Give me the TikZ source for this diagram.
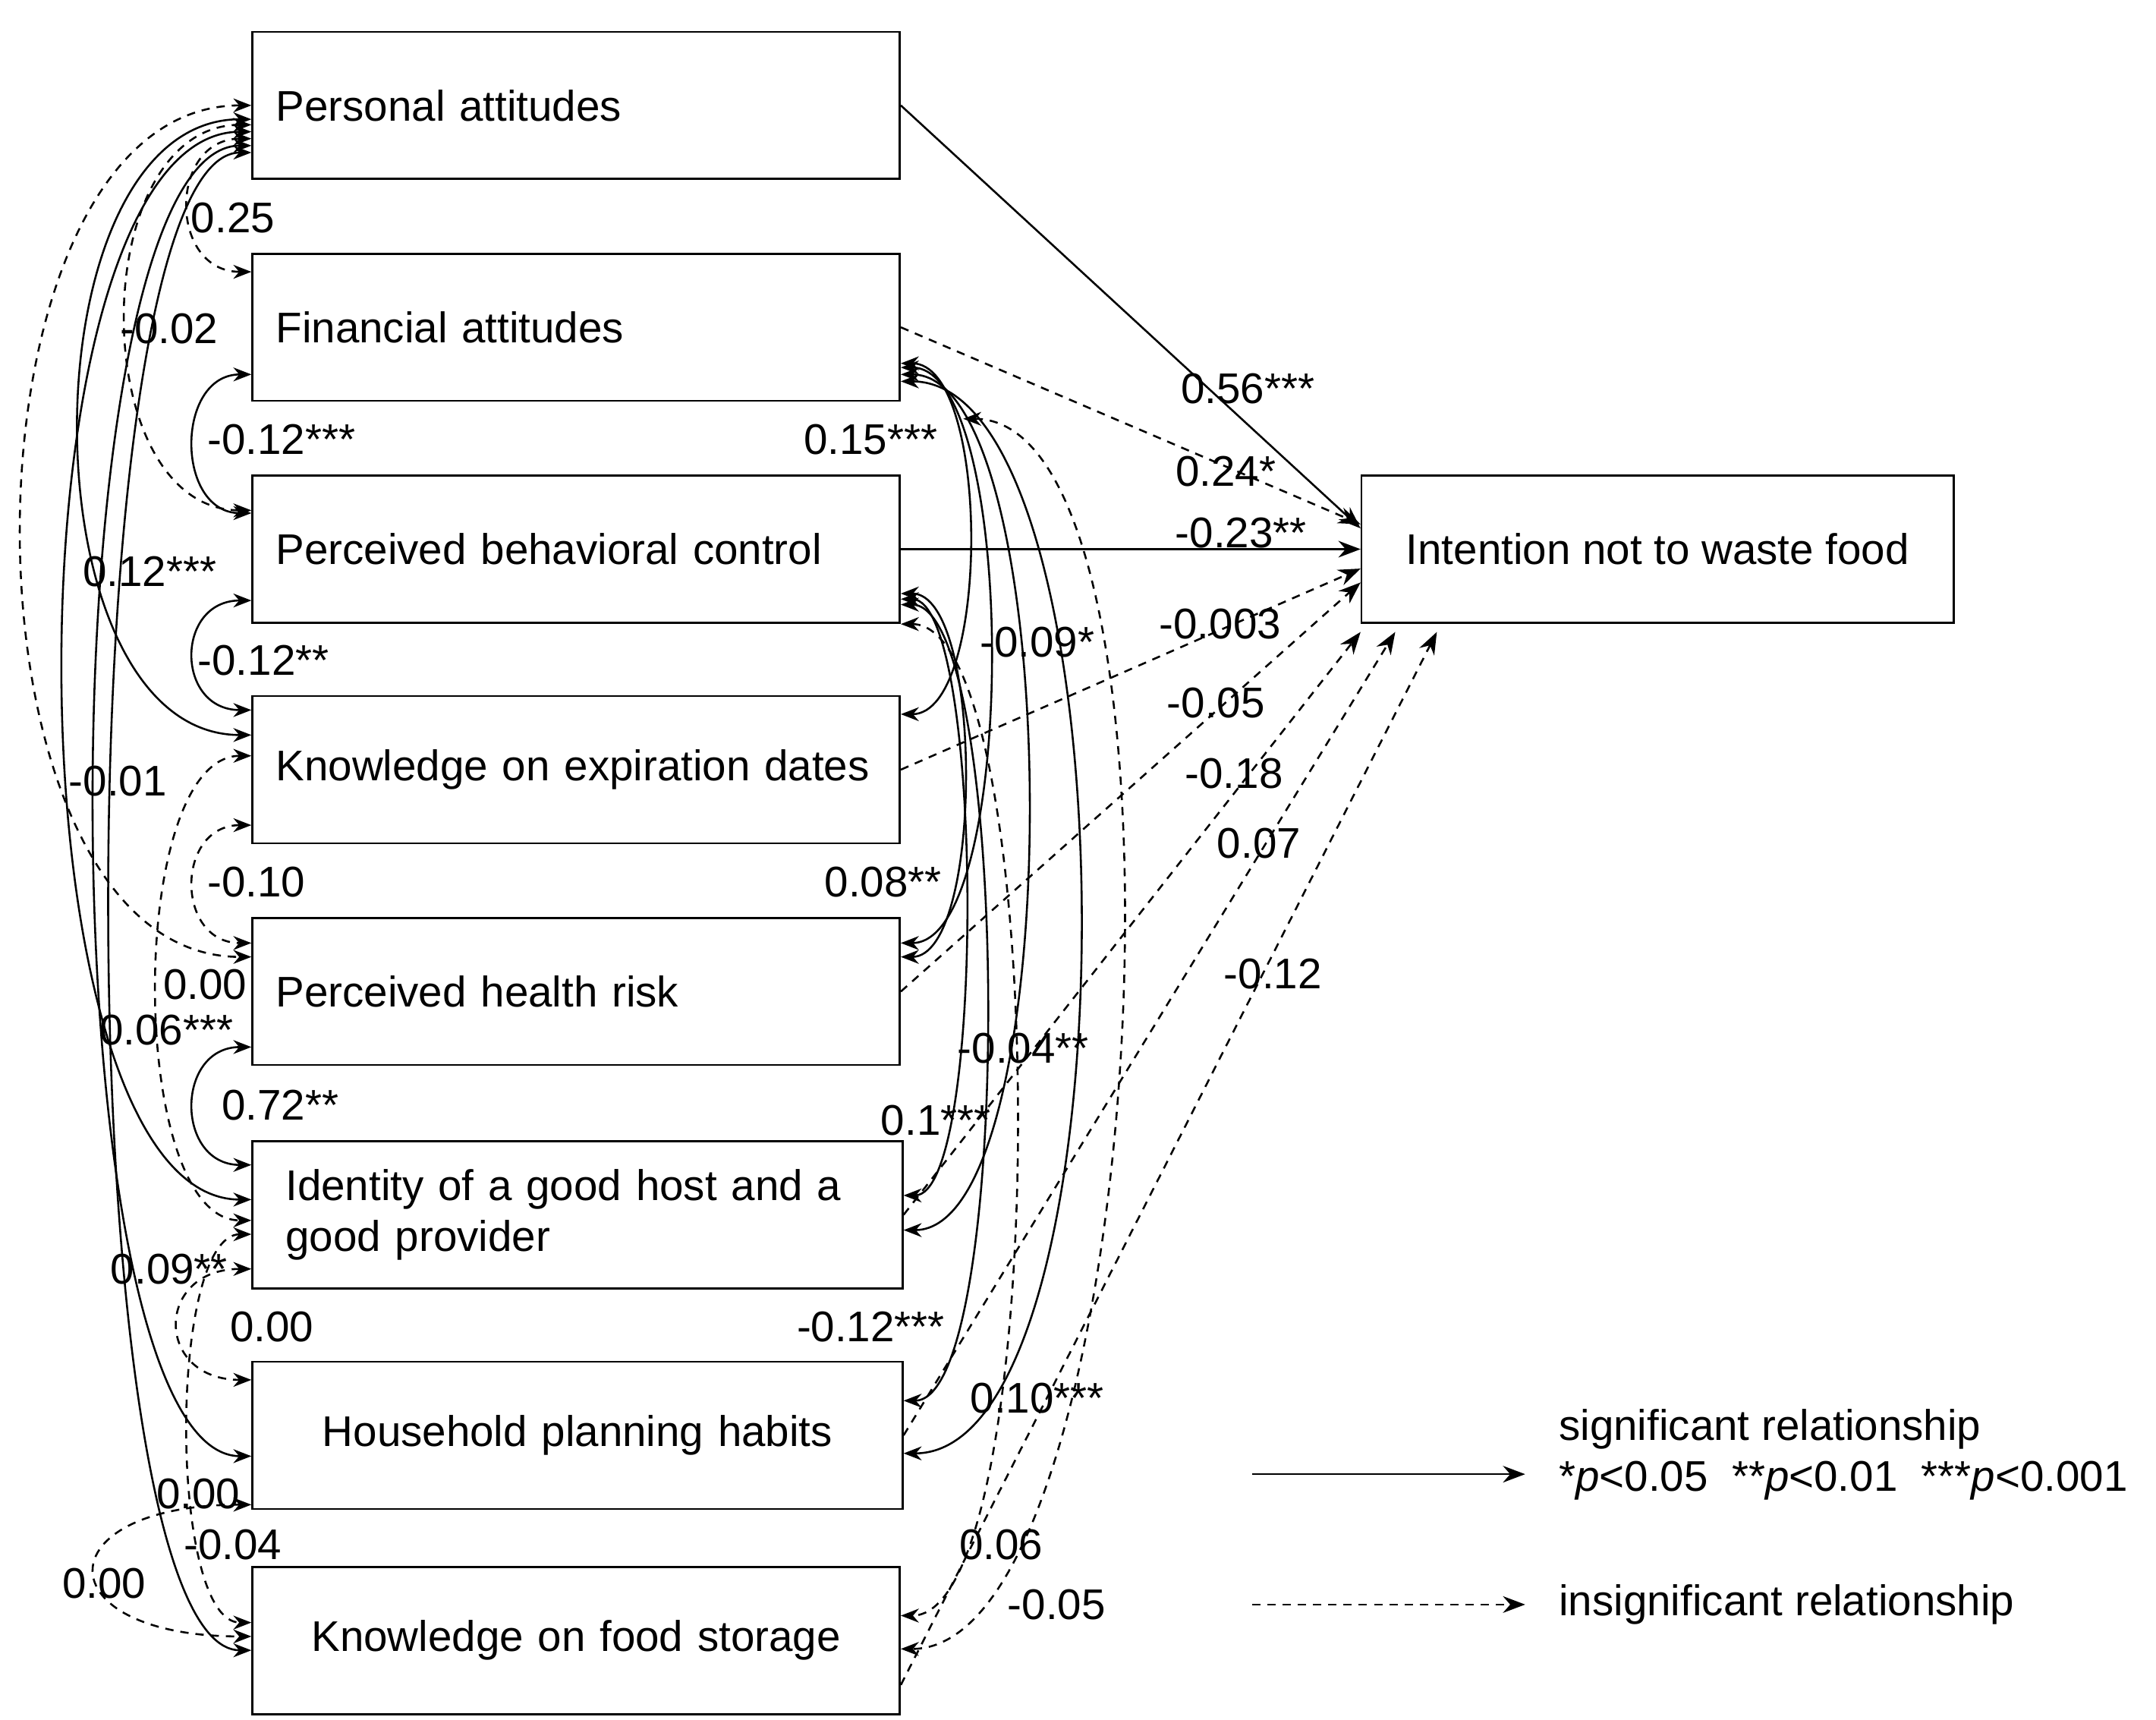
\documentclass[tikz,border=0pt]{standalone}
\usepackage{fontspec}
\setmainfont{Liberation Sans}
\usetikzlibrary{calc}
\usetikzlibrary{arrows.meta}
\tikzset{
  box/.style={draw, minimum width=46.7mm, minimum height=10.6mm, text width=43.3mm, align=left, inner xsep=1.7mm},
  sig/.style={-{Stealth[length=1.6mm,width=1.2mm]}},
  ins/.style={sig, dashed, dash pattern=on 0.6mm off 0.5mm},
  csig/.style={{Stealth[length=1.3mm,width=1mm]}-{Stealth[length=1.3mm,width=1mm]}},
  cins/.style={csig, dashed, dash pattern=on 0.6mm off 0.5mm},
  lab/.style={inner sep=0.5pt}
}
\begin{document}
\begin{tikzpicture}[x=0.1mm, y=-0.1mm, font=\fontsize{8.8}{10.4}\selectfont]
\useasboundingbox (0,0) rectangle (1555,1240);
% boxes
\node [box] (pa) at (415.5,76) {Personal attitudes};
\node [box] (fa) at (415.5,236) {Financial attitudes};
\node [box] (pbc) at (415.5,396) {Perceived behavioral control};
\node [box] (ked) at (415.5,555) {Knowledge on expiration dates};
\node [box] (phr) at (415.5,715) {Perceived health risk};
\node [box, minimum width=46.9mm] (id) at (416.5,876) {\hspace*{0.6mm}Identity of a good host and a\\ \hspace*{0.6mm}good provider};
\node [box, minimum width=46.9mm, align=center] (hph) at (416.5,1035) {Household planning habits};
\node [box, align=center] (fs) at (415.5,1183) {Knowledge on food storage};
\node [draw, minimum width=42.7mm, minimum height=10.6mm] (int) at (1195.5,396) {Intention not to waste food};
% paths to intention
\draw [sig] (pa.east) -- ($(int.west)+(0,-15)$);
\draw [ins] (fa.east) -- ($(int.west)+(0,-18)$);
\draw [sig] (pbc.east) -- (int.west);
\draw [ins] (ked.east) -- ($(int.west)+(0,14)$);
\draw [ins] (phr.east) -- ($(int.west)+(0,24)$);
\draw [ins] (id.east) -- ($(int.south west)+(0,6)$);
\draw [ins] (hph.east) -- ($(int.south west)+(25,6)$);
\draw [ins] ($(fs.east)+(0,32)$) -- ($(int.south west)+(55,6)$);
\node [lab] (l1) at (900,280) {0.56***};
\node [lab] (l2) at (884,340) {0.24*};
\node [lab] (l3) at (895,384) {-0.23**};
\node [lab] (l4) at (880,450) {-0.003};
\node [lab] (l5) at (877,507) {-0.05};
\node [lab] (l6) at (890,558) {-0.18};
\node [lab] (l7) at (908,608) {0.07};
\node [lab] (l8) at (918,702) {-0.12};
% left correlations
\draw [cins] ($(pa.west)+(0,24)$) .. controls +(-60,0) and +(-60,0) .. ($(fa.west)+(0,-40)$);
\draw [cins] ($(pa.west)+(0,14)$) .. controls +(-120,0) and +(-120,0) .. ($(pbc.west)+(0,-28)$);
\draw [csig] ($(fa.west)+(0,34)$) .. controls +(-55,0) and +(-55,0) .. ($(pbc.west)+(0,-26)$);
\draw [csig] ($(pa.west)+(0,10)$) .. controls +(-165,0) and +(-165,0) .. ($(ked.west)+(0,-25)$);
\draw [csig] ($(pbc.west)+(0,37)$) .. controls +(-55,0) and +(-55,0) .. ($(ked.west)+(0,-43)$);
\draw [cins] ($(pa.west)+(0,0)$) .. controls +(-220,0) and +(-220,0) .. ($(phr.west)+(0,-25)$);
\draw [cins] ($(ked.west)+(0,40)$) .. controls +(-55,0) and +(-55,0) .. ($(phr.west)+(0,-35)$);
\draw [csig] ($(pa.west)+(0,19)$) .. controls +(-180,0) and +(-180,0) .. ($(id.west)+(0,-11)$);
\draw [csig] ($(phr.west)+(0,40)$) .. controls +(-55,0) and +(-55,0) .. ($(id.west)+(0,-36)$);
\draw [cins] ($(ked.west)+(0,-10)$) .. controls +(-90,0) and +(-90,0) .. ($(id.west)+(0,4)$);
\draw [csig] ($(pa.west)+(0,29)$) .. controls +(-150,0) and +(-150,0) .. ($(hph.west)+(0,15)$);
\draw [cins] ($(id.west)+(0,39)$) .. controls +(-70,0) and +(-70,0) .. ($(hph.west)+(0,-40)$);
\draw [cins] ($(hph.west)+(0,50)$) .. controls +(-150,0) and +(-150,0) .. ($(fs.west)+(0,-3)$);
\draw [cins] ($(id.west)+(0,14)$) .. controls +(-60,0) and +(-60,0) .. ($(fs.west)+(0,-13)$);
\draw [csig] ($(pa.west)+(0,34)$) .. controls +(-135,0) and +(-135,0) .. ($(fs.west)+(0,7)$);
\node [lab] (c1) at (168,157) {0.25};
\node [lab] (c2) at (122,237) {-0.02};
\node [lab] (c3) at (203,317) {-0.12***};
\node [lab] (c4) at (108,412) {0.12***};
\node [lab] (c5) at (190,476) {-0.12**};
\node [lab] (c6) at (85,563) {-0.01};
\node [lab] (c7) at (185,636) {-0.10};
\node [lab] (c8) at (148,710) {0.00};
\node [lab] (c9) at (120,743) {0.06***};
\node [lab] (c10) at (202,797) {0.72**};
\node [lab] (c11) at (122,915) {0.09**};
\node [lab] (c12) at (196,957) {0.00};
\node [lab] (c13) at (143,1077) {0.00};
\node [lab] (c14) at (168,1114) {-0.04};
\node [lab] (c15) at (75,1142) {0.00};
% right correlations
\draw [csig] ($(fa.east)+(0,26)$) .. controls +(65,0) and +(65,0) .. ($(ked.east)+(0,-40)$);
\draw [csig] ($(fa.east)+(0,29)$) .. controls +(85,0) and +(85,0) .. ($(phr.east)+(0,-35)$);
\draw [csig] ($(fa.east)+(0,34)$) .. controls +(120,0) and +(120,0) .. ($(id.east)+(0,11)$);
\draw [csig] ($(fa.east)+(0,39)$) .. controls +(170,0) and +(170,0) .. ($(hph.east)+(0,13)$);
\draw [cins] ($(fa.east)+(45,66)$) .. controls +(180,0) and +(180,0) .. ($(fs.east)+(0,6)$);
\draw [csig] ($(pbc.east)+(0,32)$) .. controls +(60,0) and +(60,0) .. ($(phr.east)+(0,-25)$);
\draw [csig] ($(pbc.east)+(0,36)$) .. controls +(60,0) and +(60,0) .. ($(id.east)+(0,-14)$);
\draw [csig] ($(pbc.east)+(0,40)$) .. controls +(80,0) and +(80,0) .. ($(hph.east)+(0,-25)$);
\draw [cins] ($(pbc.east)+(0,54)$) .. controls +(110,0) and +(110,0) .. ($(fs.east)+(0,-18)$);
\node [lab] (r1) at (628,317) {0.15***};
\node [lab] (r2) at (748,463) {-0.09*};
\node [lab] (r3) at (637,636) {0.08**};
\node [lab] (r4) at (738,756) {-0.04**};
\node [lab] (r5) at (675,808) {0.1***};
\node [lab] (r6) at (628,957) {-0.12***};
\node [lab] (r7) at (748,1008) {0.10***};
\node [lab] (r8) at (722,1114) {0.06};
\node [lab] (r9) at (762,1157) {-0.05};
% legend
\coordinate (s0) at (903,1063); \coordinate (s1) at (1100,1063);
\draw [sig] (s0) -- (s1);
\node [anchor=west, align=left] (sigt) at (1112,1049) {significant relationship\\*\textit{p}<0.05\ \ **\textit{p}<0.01\ \ ***\textit{p}<0.001};
\coordinate (i0) at (903,1157); \coordinate (i1) at (1100,1157);
\draw [ins] (i0) -- (i1);
\node [anchor=west] (inst) at (1112,1157) {insignificant relationship};
\end{tikzpicture}
\end{document}
